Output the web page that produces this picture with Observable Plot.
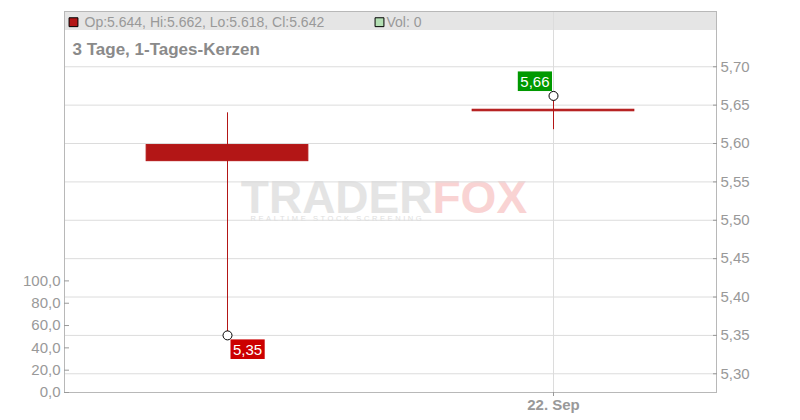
<!DOCTYPE html>
<html>
<head>
<meta charset="utf-8">
<script src="https://cdn.jsdelivr.net/npm/d3@7"></script>
<script src="https://cdn.jsdelivr.net/npm/@observablehq/plot@0.6"></script>
<style>
  html, body { margin: 0; padding: 0; background: #fff; }
  #wrap { position: relative; width: 800px; height: 420px; font-family: "Liberation Sans", Arial, sans-serif; }
  #band { position: absolute; left: 64px; top: 12px; width: 652px; height: 18px; background: #e5e5e5; }
  .layer { position: absolute; left: 0; top: 0; }
</style>
</head>
<body>
<div id="wrap">
  <div id="band"></div>
  <div id="main" class="layer"></div>
  <div id="vol" class="layer"></div>
</div>
<script>
// ---- data ----
const dates = ["19. Sep", "22. Sep"];
const open = [5.598, 5.644];
const high = [5.640, 5.662];
const low = [5.350, 5.618];
const close = [5.577, 5.642];
const volume = [0, 0];
const priceTicks = [5.30, 5.35, 5.40, 5.45, 5.50, 5.55, 5.60, 5.65, 5.70];
const volTicks = [0, 20, 40, 60, 80, 100];
const xTicks = [1];
const title = "3 Tage, 1-Tages-Kerzen";

// ---- derived table ----
const candles = dates.map((d, i) => ({i, date: d, open: open[i], high: high[i], low: low[i], close: close[i], volume: volume[i]}));
const last = candles[candles.length - 1];
const legendText = `Op:${last.open.toFixed(3)}, Hi:${last.high.toFixed(3)}, Lo:${last.low.toFixed(3)}, Cl:${last.close.toFixed(3)}`;
const volText = `Vol: ${last.volume}`;
const iLow = d3.minIndex(low), iHigh = d3.maxIndex(high);
const lowMark = [{i: iLow, v: low[iLow]}];
const highMark = [{i: iHigh, v: high[iHigh]}];
const fmt2 = v => v.toFixed(2).replace(".", ",");

const RED = "#b31616";
const FONT = "'Liberation Sans', Arial, sans-serif";

const common = {
  width: 800, height: 420,
  marginLeft: 64, marginRight: 84, marginTop: 11, marginBottom: 28,
  style: {background: "transparent", fontFamily: FONT, overflow: "visible"}
};

const main = Plot.plot({
  ...common,
  x: {domain: [-0.5, 1.5], axis: null},
  y: {domain: [5.2756, 5.772], axis: null},
  marks: [
    // watermark
    Plot.text(["TRADER"], {frameAnchor: "middle", dx: 42, dy: 10.5, textAnchor: "end", lineAnchor: "bottom", fontSize: 46, fontWeight: "bold", fill: "#e4e4e4"}),
    Plot.text(["FOX"], {frameAnchor: "middle", dx: 42, dy: 10.5, textAnchor: "start", lineAnchor: "bottom", fontSize: 46, fontWeight: "bold", fill: "#f9d3d3"}),
    Plot.text(["REALTIME STOCK SCREENING"], {frameAnchor: "middle", dx: -140, dy: 19, textAnchor: "start", lineAnchor: "bottom", fontSize: 7.5, fill: "#dedede", ariaDescription: "wm3"}),
    // grid, frame, axes
    Plot.gridY(priceTicks, {stroke: "#dcdcdc", strokeOpacity: 1}),
    Plot.gridX(xTicks, {stroke: "#dcdcdc", strokeOpacity: 1}),
    Plot.frame({stroke: "#b8b8b8"}),
    Plot.axisY(priceTicks, {anchor: "right", label: null, tickSize: 4, insetRight: 4, tickPadding: 4, tickFormat: fmt2, fontSize: 15, color: "#999"}),
    Plot.axisX(xTicks, {anchor: "bottom", label: null, tickSize: 4, tickPadding: 3, tickFormat: i => dates[i], fontSize: 15, fontWeight: "bold", color: "#999"}),
    // legend + title
    Plot.dot([0], {frameAnchor: "top-left", dx: 9, dy: 10.7, symbol: "square", r: 5, fill: RED, stroke: "#000", strokeWidth: 1}),
    Plot.text([legendText], {frameAnchor: "top-left", dx: 20, dy: 15.5, textAnchor: "start", lineAnchor: "bottom", fontSize: 14, fill: "#999"}),
    Plot.dot([0], {frameAnchor: "top-left", dx: 315, dy: 10.7, symbol: "square", r: 5, fill: "#b3dfb3", stroke: "#000", strokeWidth: 1}),
    Plot.text([volText], {frameAnchor: "top-left", dx: 322, dy: 15.5, textAnchor: "start", lineAnchor: "bottom", fontSize: 14, fill: "#999"}),
    Plot.text([title], {frameAnchor: "top-left", dx: 8, dy: 43, textAnchor: "start", lineAnchor: "bottom", fontSize: 17, fontWeight: "bold", fill: "#8a8a8a"}),
    // candles
    Plot.ruleX(candles, {x: "i", y1: "low", y2: "high", stroke: RED, strokeWidth: 1}),
    Plot.rect(candles, {x1: d => d.i - 0.248, x2: d => d.i + 0.248, y1: "open", y2: "close", fill: RED, stroke: RED, strokeWidth: 1}),
    // hi / lo markers
    Plot.dot(lowMark, {x: "i", y: "v", r: 4.5, fill: "white", stroke: "#000", strokeWidth: 1}),
    Plot.dot(highMark, {x: "i", y: "v", r: 4.5, fill: "white", stroke: "#000", strokeWidth: 1}),
    Plot.text(lowMark, {x: "i", y: "v", text: d => fmt2(d.v), dx: 5.5, dy: 14.5, textAnchor: "start", fontSize: 15, fill: "white", ariaDescription: "low-label"}),
    Plot.text(highMark, {x: "i", y: "v", text: d => fmt2(d.v), dx: -4, dy: -14, textAnchor: "end", fontSize: 15, fill: "white", ariaDescription: "high-label"})
  ]
});

const vol = Plot.plot({
  ...common,
  x: {domain: [-0.5, 1.5], axis: null},
  y: {domain: [0, 341.4], axis: null},
  marks: [
    Plot.rectY(candles, {x1: d => d.i - 0.248, x2: d => d.i + 0.248, y: "volume", fill: "#b3dfb3"}),
    Plot.axisY(volTicks, {anchor: "left", label: null, tickSize: 5, insetLeft: 5, tickPadding: 4, tickFormat: v => v.toFixed(1).replace(".", ","), fontSize: 15, color: "#999"})
  ]
});

document.getElementById("main").appendChild(main);
document.getElementById("vol").appendChild(vol);

// label background boxes
function boxes(label, color) {
  d3.select(main).selectAll(`[aria-description="${label}"] text`).each(function () {
    const b = this.getBBox();
    const r = document.createElementNS("http://www.w3.org/2000/svg", "rect");
    const cy = b.y + b.height / 2;
    r.setAttribute("x", b.x - 2.5);
    r.setAttribute("y", cy - 9.8);
    r.setAttribute("width", b.width + 5);
    r.setAttribute("height", 19.6);
    r.setAttribute("fill", color);
    const t = this.getAttribute("transform");
    if (t) r.setAttribute("transform", t);
    this.parentNode.insertBefore(r, this);
  });
}
boxes("low-label", "#cc0000");
boxes("high-label", "#009900");
d3.select(main).selectAll('[aria-description="wm3"] text').style("letter-spacing", "2.6px");
</script>
</body>
</html>
